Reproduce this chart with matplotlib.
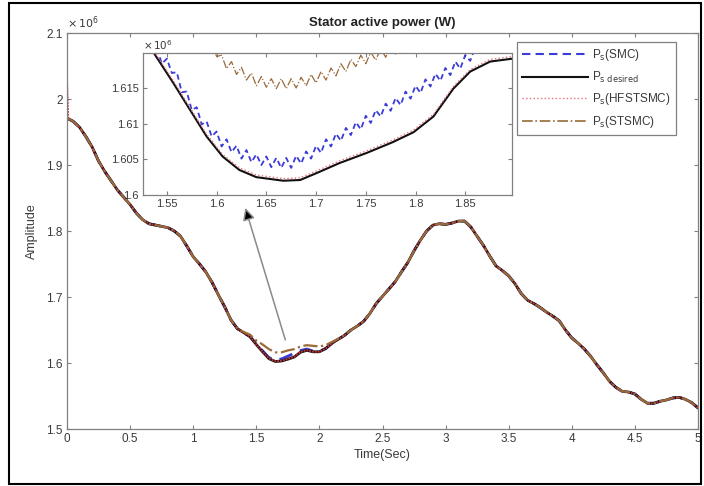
import matplotlib
matplotlib.use("Agg")
import matplotlib.pyplot as plt
from matplotlib.patches import Rectangle

plt.rcParams['font.family'] = ['Liberation Sans', 'DejaVu Sans']

# ---- data (values in units of 10^6 W) ----
t = [0.0, 0.01] + [round(0.05 * k, 2) for k in range(1, 101)]

p_desired = [1.971, 1.970, 1.966, 1.957, 1.943, 1.927, 1.906, 1.890, 1.876, 1.862, 1.851, 1.840,
             1.827, 1.817, 1.811, 1.809, 1.807, 1.805, 1.800, 1.792, 1.777, 1.761,
             1.750, 1.738, 1.722, 1.703, 1.685, 1.665, 1.652, 1.646, 1.640, 1.628,
             1.617, 1.6066, 1.6023, 1.6030, 1.6058, 1.6090, 1.6163, 1.6192, 1.617, 1.617,
             1.622, 1.630, 1.636, 1.642, 1.650, 1.656, 1.663, 1.675, 1.690, 1.701,
             1.712, 1.723, 1.738, 1.752, 1.770, 1.786, 1.800, 1.809, 1.811, 1.810,
             1.812, 1.815, 1.815, 1.806, 1.792, 1.778, 1.762, 1.747, 1.740, 1.732,
             1.720, 1.705, 1.695, 1.690, 1.684, 1.677, 1.671, 1.664, 1.650, 1.638,
             1.630, 1.621, 1.610, 1.597, 1.585, 1.572, 1.563, 1.557, 1.556, 1.553,
             1.545, 1.539, 1.539, 1.542, 1.544, 1.547, 1.548, 1.545, 1.540, 1.532]

p_smc = [1.971, 1.970, 1.966, 1.957, 1.943, 1.927, 1.906, 1.890, 1.876, 1.862, 1.851, 1.840,
         1.827, 1.817, 1.811, 1.809, 1.807, 1.805, 1.800, 1.792, 1.777, 1.761,
         1.750, 1.738, 1.722, 1.703, 1.685, 1.665, 1.652, 1.646, 1.640, 1.629,
         1.6184, 1.6082, 1.6047, 1.6062, 1.6104, 1.6146, 1.6189, 1.6212, 1.618, 1.6175,
         1.622, 1.630, 1.636, 1.642, 1.650, 1.656, 1.663, 1.675, 1.690, 1.701,
         1.712, 1.723, 1.738, 1.752, 1.770, 1.786, 1.800, 1.809, 1.811, 1.810,
         1.812, 1.815, 1.815, 1.806, 1.792, 1.778, 1.762, 1.747, 1.740, 1.732,
         1.720, 1.705, 1.695, 1.690, 1.684, 1.677, 1.671, 1.664, 1.650, 1.638,
         1.630, 1.621, 1.610, 1.597, 1.585, 1.572, 1.563, 1.557, 1.556, 1.553,
         1.545, 1.539, 1.539, 1.542, 1.544, 1.547, 1.548, 1.545, 1.540, 1.532]

p_hfstsmc = [2.030, 1.971, 1.966, 1.957, 1.943, 1.927, 1.906, 1.890, 1.876, 1.862, 1.851, 1.840,
             1.827, 1.817, 1.811, 1.809, 1.807, 1.805, 1.800, 1.792, 1.777, 1.761,
             1.750, 1.738, 1.722, 1.703, 1.685, 1.665, 1.652, 1.646, 1.640, 1.628,
             1.6173, 1.6069, 1.6026, 1.6033, 1.6061, 1.6093, 1.6166, 1.6195, 1.617, 1.617,
             1.622, 1.630, 1.636, 1.642, 1.650, 1.656, 1.663, 1.675, 1.690, 1.701,
             1.712, 1.723, 1.738, 1.752, 1.770, 1.786, 1.800, 1.809, 1.811, 1.810,
             1.812, 1.815, 1.815, 1.806, 1.792, 1.778, 1.762, 1.747, 1.740, 1.732,
             1.720, 1.705, 1.695, 1.690, 1.684, 1.677, 1.671, 1.664, 1.650, 1.638,
             1.630, 1.621, 1.610, 1.597, 1.585, 1.572, 1.563, 1.557, 1.556, 1.553,
             1.545, 1.539, 1.539, 1.542, 1.544, 1.547, 1.548, 1.545, 1.540, 1.532]

p_stsmc = [1.971, 1.970, 1.966, 1.957, 1.943, 1.927, 1.906, 1.890, 1.876, 1.862, 1.851, 1.840,
           1.827, 1.817, 1.811, 1.809, 1.807, 1.805, 1.800, 1.792, 1.777, 1.761,
           1.750, 1.738, 1.722, 1.703, 1.685, 1.665, 1.652, 1.647, 1.643, 1.634,
           1.628, 1.621, 1.6162, 1.6162, 1.6190, 1.621, 1.625, 1.627, 1.626, 1.625,
           1.627, 1.632, 1.637, 1.642, 1.650, 1.656, 1.663, 1.675, 1.690, 1.701,
           1.712, 1.723, 1.738, 1.752, 1.770, 1.786, 1.800, 1.809, 1.811, 1.810,
           1.812, 1.815, 1.815, 1.806, 1.792, 1.778, 1.762, 1.747, 1.740, 1.732,
           1.720, 1.705, 1.695, 1.690, 1.684, 1.677, 1.671, 1.664, 1.650, 1.638,
           1.630, 1.621, 1.610, 1.597, 1.585, 1.572, 1.563, 1.557, 1.556, 1.553,
           1.545, 1.539, 1.539, 1.542, 1.544, 1.547, 1.548, 1.545, 1.540, 1.532]

# zoomed detail (inset)
tz_ref = [1.520, 1.536, 1.556, 1.573, 1.590, 1.606, 1.623, 1.640, 1.667, 1.684,
          1.701, 1.724, 1.751, 1.777, 1.798, 1.818, 1.838, 1.855, 1.875, 1.897]
z_desired = [1.6232, 1.6201, 1.6158, 1.6120, 1.6082, 1.6054, 1.6035, 1.6025, 1.6020, 1.6021,
             1.6031, 1.6045, 1.6059, 1.6074, 1.6088, 1.6110, 1.6149, 1.6173, 1.6187, 1.6191]
z_hfstsmc = [1.6235, 1.6204, 1.6161, 1.6123, 1.6085, 1.6057, 1.6038, 1.6028, 1.6023, 1.6024,
             1.6034, 1.6048, 1.6062, 1.6077, 1.6091, 1.6113, 1.6152, 1.6176, 1.6190, 1.6194]

tz_smc = [round(1.54 + 0.005 * k, 3) for k in range(67)]
z_smc = [1.6205, 1.6184, 1.6191, 1.6171, 1.6172, 1.6144, 1.6145, 1.6119, 1.6123, 1.6099,
         1.6103, 1.6082, 1.6089, 1.6068, 1.6078, 1.6060, 1.6069, 1.6051, 1.6063, 1.6046,
         1.6057, 1.6042, 1.6054, 1.6039, 1.6052, 1.6038, 1.6052, 1.6038, 1.6055, 1.6044,
         1.6061, 1.6051, 1.6069, 1.6059, 1.6078, 1.6068, 1.6086, 1.6076, 1.6094, 1.6084,
         1.6102, 1.6092, 1.6111, 1.6101, 1.6119, 1.6110, 1.6128, 1.6118, 1.6136, 1.6126,
         1.6145, 1.6135, 1.6153, 1.6143, 1.6162, 1.6152, 1.6170, 1.6160, 1.6178, 1.6168,
         1.6187, 1.6177, 1.6196, 1.6188, 1.6207, 1.6199, 1.6219]

tz_stsmc = [round(1.595 + 0.005 * k, 3) for k in range(38)]
z_stsmc = [1.6215, 1.6194, 1.6196, 1.6177, 1.6187, 1.6169, 1.6179, 1.6161, 1.6171, 1.6153,
           1.6166, 1.6151, 1.6163, 1.6149, 1.6163, 1.6149, 1.6163, 1.6150, 1.6165, 1.6153,
           1.6169, 1.6157, 1.6173, 1.6161, 1.6178, 1.6167, 1.6184, 1.6173, 1.6190, 1.6180,
           1.6196, 1.6184, 1.6200, 1.6189, 1.6205, 1.6193, 1.6209, 1.6197]

main_xticks = [0, 0.5, 1, 1.5, 2, 2.5, 3, 3.5, 4, 4.5, 5]
main_xlabels = ['0', '0.5', '1', '1.5', '2', '2.5', '3', '3.5', '4', '4.5', '5']
main_yticks = [1.5, 1.6, 1.7, 1.8, 1.9, 2.0, 2.1]
main_ylabels = ['1.5', '1.6', '1.7', '1.8', '1.9', '2', '2.1']
ins_xticks = [1.55, 1.6, 1.65, 1.7, 1.75, 1.8, 1.85]
ins_xlabels = ['1.55', '1.6', '1.65', '1.7', '1.75', '1.8', '1.85']
ins_yticks = [1.6, 1.605, 1.61, 1.615]
ins_ylabels = ['1.6', '1.605', '1.61', '1.615']

c_smc = '#3b3bd6'
c_des = '#111111'
c_hf = '#e8707a'
c_st = '#9a6a3a'
gray = '#808080'
txt = '#3a3a3a'

W, H = 704, 486
fig = plt.figure(figsize=(W / 100, H / 100), dpi=100)
fig.patches.append(Rectangle((9 / W, 2 / H), 692 / W, 481 / H, transform=fig.transFigure,
                             fill=False, ec='k', lw=1.5))


def style(a, fs):
    for s in a.spines.values():
        s.set_color(gray)
        s.set_linewidth(0.9)
    a.tick_params(direction='in', top=True, right=True, length=3, width=0.8,
                  color=gray, labelsize=fs, labelcolor=txt, pad=3)


ax = fig.add_axes([67 / W, 57 / H, 631 / W, 396 / H])
l1, = ax.plot(t, p_smc, '--', color=c_smc, lw=2.0, dashes=(5, 3))
l2, = ax.plot(t, p_desired, '-', color=c_des, lw=2.0)
l3, = ax.plot(t, p_hfstsmc, color='#c8303a', lw=1.3, ls=(0, (1, 0.6)))
l4, = ax.plot(t, p_stsmc, '-.', color=c_st, lw=1.6)
ax.set_xlim(0, 5)
ax.set_ylim(1.5, 2.1)
ax.set_xticks(main_xticks)
ax.set_xticklabels(main_xlabels)
ax.set_yticks(main_yticks)
ax.set_yticklabels(main_ylabels)
style(ax, 8.5)
ax.set_title('Stator active power (W)', fontweight='bold', fontsize=9.5, pad=5, color='#222222')
ax.set_xlabel('Time(Sec)', fontsize=9, color=txt, labelpad=3)
ax.set_ylabel('Amplitude', fontsize=9, color=txt, labelpad=6)
ax.text(0.0, 1.004, r'$\times\,10^{6}$', transform=ax.transAxes, fontsize=8,
        color=txt, ha='left', va='bottom')

ax.annotate('', xy=(1.413, 1.835), xytext=(1.730, 1.635),
            arrowprops=dict(arrowstyle='-|>', lw=1.1, ec='#8a8a8a', fc='k',
                            mutation_scale=18, shrinkA=0, shrinkB=0),
            annotation_clip=False, zorder=6)

# legend proxies drawn with the legend's own line styles
h1, = ax.plot([], [], '--', color=c_smc, lw=1.5, dashes=(4, 2.5))
h2, = ax.plot([], [], '-', color=c_des, lw=1.5)
h3, = ax.plot([], [], ':', color=c_hf, lw=1.0)
h4, = ax.plot([], [], '-.', color=c_st, lw=1.2)
leg = ax.legend([h1, h2, h3, h4],
                [r'P$_\mathrm{s}$(SMC)', r'P$_\mathrm{s\ desired}$',
                 r'P$_\mathrm{s}$(HFSTSMC)', r'P$_\mathrm{s}$(STSMC)'],
                loc='upper left', bbox_to_anchor=(517 / W, 1 - 42 / H),
                bbox_transform=fig.transFigure, borderaxespad=0, fontsize=8.5,
                handlelength=5.6, labelspacing=0.55, fancybox=False, framealpha=1,
                edgecolor=gray, borderpad=0.45, handletextpad=0.3)
leg.get_frame().set_linewidth(0.9)
for tx in leg.get_texts():
    tx.set_color(txt)

ins = fig.add_axes([143 / W, 291 / H, 369 / W, 142 / H])
ins.plot(tz_smc, z_smc, '--', color=c_smc, lw=1.3, dashes=(3, 2))
ins.plot(tz_ref, z_desired, '-', color=c_des, lw=1.5)
ins.plot(tz_ref, z_hfstsmc, ':', color=c_hf, lw=1.0)
ins.plot(tz_stsmc, z_stsmc, '-.', color=c_st, lw=0.9)
ins.set_xlim(1.526, 1.897)
ins.set_ylim(1.6, 1.6199)
ins.set_xticks(ins_xticks)
ins.set_xticklabels(ins_xlabels)
ins.set_yticks(ins_yticks)
ins.set_yticklabels(ins_ylabels)
style(ins, 8)
ins.text(0.0, 1.01, r'$\times\,10^{6}$', transform=ins.transAxes, fontsize=7.5,
         color=txt, ha='left', va='bottom')

fig.savefig('out.png', dpi=100)
